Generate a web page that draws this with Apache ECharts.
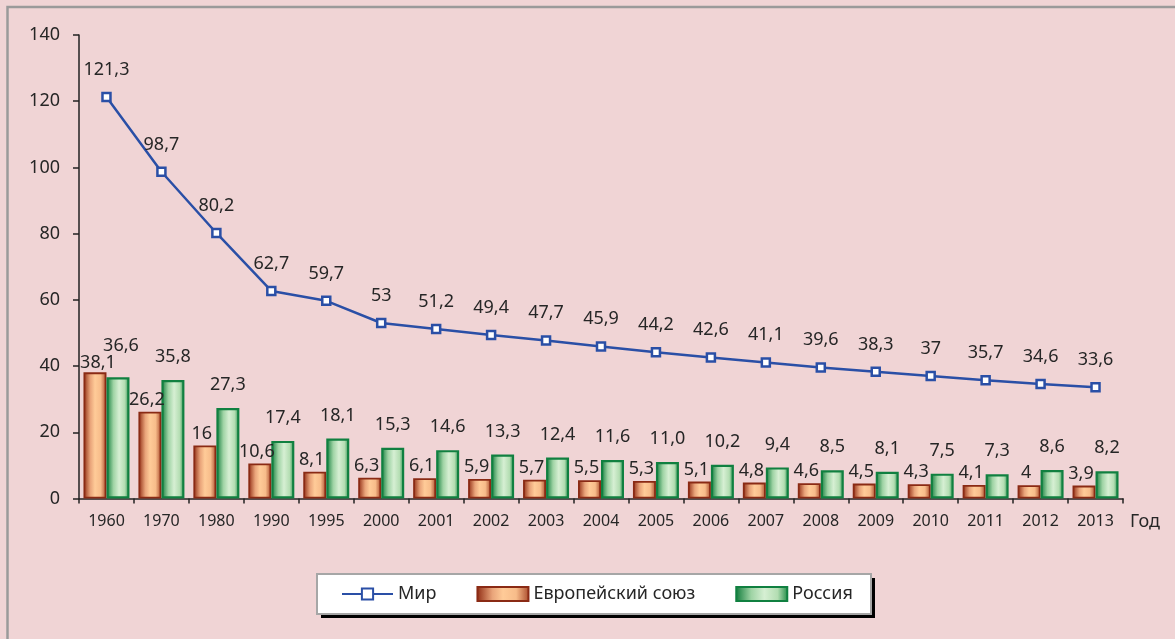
<!DOCTYPE html>
<html><head><meta charset="utf-8">
<script src="https://cdn.jsdelivr.net/npm/echarts@6/dist/echarts.min.js"></script>
<style>html,body{margin:0;padding:0;background:#F0D4D5}#c{width:1175px;height:639px}</style>
</head><body><div id="c"></div>
<script>
const years = ['1960','1970','1980','1990','1995','2000','2001','2002','2003','2004','2005','2006','2007','2008','2009','2010','2011','2012','2013'];
const world = [121.3, 98.7, 80.2, 62.7, 59.7, 53, 51.2, 49.4, 47.7, 45.9, 44.2, 42.6, 41.1, 39.6, 38.3, 37, 35.7, 34.6, 33.6];
const eu = [38.1, 26.2, 16, 10.6, 8.1, 6.3, 6.1, 5.9, 5.7, 5.5, 5.3, 5.1, 4.8, 4.6, 4.5, 4.3, 4.1, 4, 3.9];
const russia = [36.6, 35.8, 27.3, 17.4, 18.1, 15.3, 14.6, 13.3, 12.4, 11.6, 11.0, 10.2, 9.4, 8.5, 8.1, 7.5, 7.3, 8.6, 8.2];
const seriesNames = ['Мир', 'Европейский союз', 'Россия'];
const yMin = 0, yMax = 140, yStep = 20;
const axisName = 'Год';

const FONT = '"Noto Sans", sans-serif';
const TXT = '#262626';
const fmt = v => String(v).replace('.', ',');
const fmt1 = v => Number(v).toFixed(1).replace('.', ',');

const euGrad = {type:'linear', x:0, y:0, x2:1, y2:0, colorStops:[
  {offset:0, color:'#8E2A12'}, {offset:0.3, color:'#E9A47A'}, {offset:0.5, color:'#FFCB98'},
  {offset:0.75, color:'#F7BC8A'}, {offset:1, color:'#A9492A'}]};
const ruGrad = {type:'linear', x:0, y:0, x2:1, y2:0, colorStops:[
  {offset:0, color:'#0F7A3A'}, {offset:0.3, color:'#9ED3A4'}, {offset:0.55, color:'#D6EFD3'},
  {offset:0.8, color:'#B3DDB2'}, {offset:1, color:'#1D8A45'}]};

const chart = echarts.init(document.getElementById('c'), null, {renderer:'canvas'});
chart.setOption({
  animation: false,
  backgroundColor: '#F0D4D5',
  textStyle: {fontFamily: FONT},
  graphic: [
    {type:'rect', z:0, shape:{x:7.5, y:7, width:1200, height:700}, style:{fill:'none', stroke:'#9A9A9A', lineWidth:2.5}},
    {type:'rect', z:0, shape:{x:321, y:578, width:554, height:40}, style:{fill:'#000'}},
    {type:'rect', z:0, shape:{x:317, y:574, width:554, height:40}, style:{fill:'#fff', stroke:'#A6A6A6', lineWidth:2}}
  ],
  legend: {
    data: [{name: seriesNames[0]}, {name: seriesNames[1], icon: 'rect'}, {name: seriesNames[2], icon: 'rect'}],
    left: 341, top: 585, padding: 0, itemGap: 40,
    itemWidth: 51, itemHeight: 14, z: 10,
    textStyle: {fontSize: 18, color: TXT, fontFamily: FONT}
  },
  grid: {left: 79, right: 52, top: 35, bottom: 140.5, containLabel: false},
  xAxis: {
    type: 'category', data: years,
    name: axisName, nameLocation: 'end', nameGap: 7,
    nameTextStyle: {fontSize: 18, color: TXT, verticalAlign: 'top', padding: [14, 0, 0, 0], fontFamily: FONT},
    axisLine: {lineStyle: {color: '#222', width: 1.5}},
    axisTick: {show: true, length: 5, lineStyle: {color: '#222', width: 1.5}},
    axisLabel: {margin: 15, fontSize: 16, color: TXT, fontFamily: FONT}
  },
  yAxis: {
    type: 'value', min: yMin, max: yMax, interval: yStep,
    axisLine: {show: true, lineStyle: {color: '#222', width: 1.5}},
    axisTick: {show: true, length: 6, lineStyle: {color: '#222', width: 1.5}},
    splitLine: {show: false},
    axisLabel: {margin: 19, fontSize: 18, color: TXT, fontFamily: FONT}
  },
  series: [
    {
      name: seriesNames[1], type: 'bar', barWidth: 23, barGap: '0%',
      data: eu.map((v, i) => i === 0 ? {value: v, label: {offset: [3, 5]}} : v),
      itemStyle: {color: euGrad, borderColor: '#8A2A14', borderWidth: 1.8},
      label: {show: true, position: 'top', distance: 5, offset: [-3, 2], fontSize: 18, color: TXT, fontFamily: FONT, formatter: p => fmt(p.value)}
    },
    {
      name: seriesNames[2], type: 'bar', barWidth: 23, barGap: '0%',
      data: russia.map((v, i) => i === 0 ? {value: v, label: {offset: [3, -17]}} : v),
      itemStyle: {color: ruGrad, borderColor: '#108040', borderWidth: 2.2},
      label: {show: true, position: 'top', distance: 5, offset: [0, -9], fontSize: 18, color: TXT, fontFamily: FONT, formatter: p => fmt1(p.value)}
    },
    {
      name: seriesNames[0], type: 'line', data: world, z: 5,
      symbol: 'rect', symbolSize: 8,
      lineStyle: {color: '#2A4FA6', width: 2.5},
      itemStyle: {color: '#fff', borderColor: '#2A4FA6', borderWidth: 2.5},
      label: {show: true, position: 'top', distance: 13, fontSize: 18, color: TXT, fontFamily: FONT, formatter: p => fmt(p.value)}
    }
  ]
});
</script></body></html>
